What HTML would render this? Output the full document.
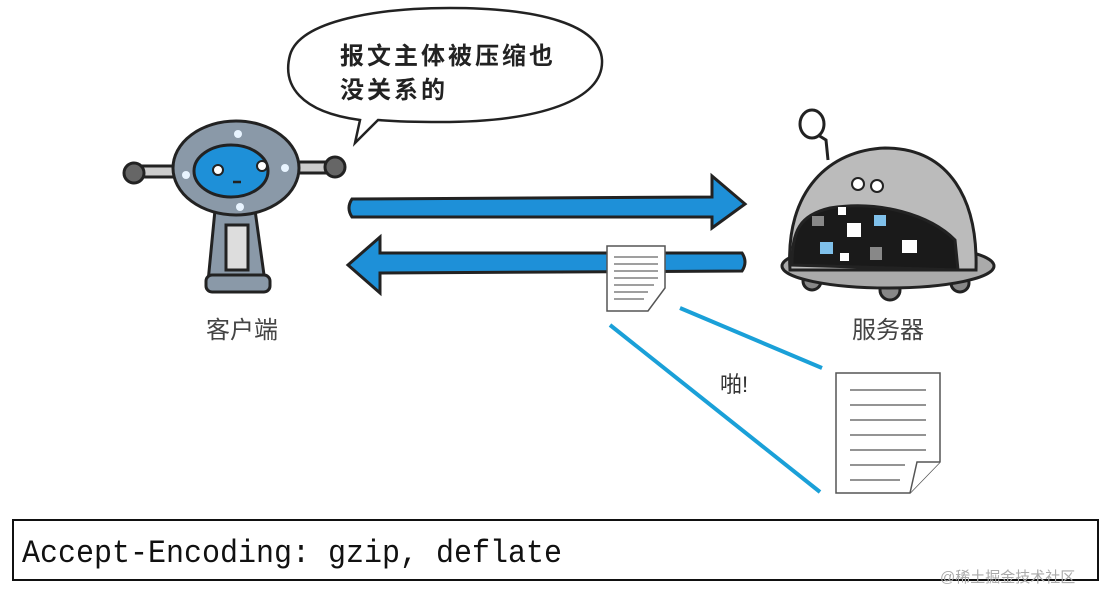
<!DOCTYPE html>
<html><head><meta charset="utf-8"><style>
html,body{margin:0;padding:0;background:#fff;}
body{width:1120px;height:602px;overflow:hidden;position:relative;}
svg{position:absolute;left:0;top:0;}
.cjk{font-family:"Liberation Sans","Noto Sans CJK SC",sans-serif;}
</style></head><body>
<svg width="1120" height="602" viewBox="0 0 1120 602" xmlns="http://www.w3.org/2000/svg">
<path d="M360,120 C300,112 282,85 290,55 C300,20 380,8 450,8 C540,8 600,25 602,60 C604,100 540,122 440,122 C410,122 390,121 378,120 L355,143 Z" fill="#fff" stroke="#222" stroke-width="2.5"/>
<text x="340" y="64" class="cjk" font-size="24" fill="#222" letter-spacing="3" font-weight="bold">报文主体被压缩也</text>
<text x="340" y="98" class="cjk" font-size="24" fill="#222" letter-spacing="3" font-weight="bold">没关系的</text>
<g stroke="#222" stroke-width="3">
<rect x="140" y="166" width="40" height="11" fill="#ccc"/>
<rect x="290" y="162" width="40" height="11" fill="#ccc"/>
<circle cx="134" cy="173" r="10" fill="#666"/>
<circle cx="335" cy="167" r="10" fill="#666"/>
<path d="M215,210 L255,210 L265,282 L208,282 Z" fill="#8a99a8"/>
<rect x="226" y="225" width="22" height="45" fill="#ddd"/>
<rect x="206" y="275" width="64" height="17" rx="6" fill="#8a99a8"/>
<ellipse cx="236" cy="168" rx="63" ry="47" fill="#8a99a8"/>
<ellipse cx="231" cy="171" rx="37" ry="26" fill="#1e90d8"/>
</g>
<circle cx="238" cy="134" r="4" fill="#e8f4ff"/><circle cx="240" cy="207" r="4" fill="#e8f4ff"/>
<circle cx="186" cy="175" r="4" fill="#e8f4ff"/><circle cx="285" cy="168" r="4" fill="#e8f4ff"/>
<circle cx="218" cy="170" r="5" fill="#fff" stroke="#222" stroke-width="2"/>
<circle cx="262" cy="166" r="5" fill="#fff" stroke="#222" stroke-width="2"/>
<path d="M233,182 h8" stroke="#222" stroke-width="2.5"/>
<text x="242" y="338" text-anchor="middle" class="cjk" font-size="24" fill="#444">客户端</text>
<path d="M352,199 L712,197 L712,176 L745,204 L712,228 L712,217 L352,217 Q346,208 352,199 Z" fill="#1e90d8" stroke="#222" stroke-width="3"/>
<path d="M742,253 L380,253 L380,237 L348,265 L380,293 L380,273 L742,271 Q748,262 742,253 Z" fill="#1e90d8" stroke="#222" stroke-width="3"/>
<path d="M607,246 L665,246 L665,288 L648,311 L607,311 Z" fill="#fff" stroke="#555" stroke-width="1.5"/>
<g stroke="#666" stroke-width="1.2"><path d="M614,257h44M614,264h44M614,271h44M614,278h44M614,285h40M614,292h34M614,299h30"/></g>
<path d="M680,308 L822,368" stroke="#1aa0d8" stroke-width="4"/>
<path d="M610,325 L820,492" stroke="#1aa0d8" stroke-width="4"/>
<text x="720" y="392" class="cjk" font-size="22" fill="#333">啪!</text>
<path d="M836,373 L940,373 L940,462 L910,493 L836,493 Z" fill="#fff" stroke="#555" stroke-width="1.5"/>
<g stroke="#555" stroke-width="1.2"><path d="M850,390h76M850,405h76M850,420h76M850,435h76M850,450h76M850,465h55M850,480h50"/></g>
<path d="M910,493 L917,462 L940,462" fill="#fff" stroke="#555" stroke-width="1.5"/>
<g stroke="#222" stroke-width="3">
<path d="M818,135 L826,140 L828,160" fill="none"/>
<ellipse cx="812" cy="124" rx="12" ry="14" fill="#fff"/>
<circle cx="812" cy="281" r="9" fill="#888"/><circle cx="890" cy="290" r="10" fill="#888"/><circle cx="960" cy="283" r="9" fill="#888"/>
<ellipse cx="888" cy="266" rx="106" ry="22" fill="#aaa"/>
<path d="M790,270 C785,190 830,150 885,148 C950,148 978,200 976,270 Z" fill="#bbb"/>
<path d="M792,265 C792,230 800,215 830,208 C880,200 930,215 955,240 L958,270 Z" fill="#1a1a1a"/>
</g>
<rect x="812" y="216" width="12" height="10" fill="#888"/><rect x="838" y="207" width="8" height="8" fill="#fff"/>
<rect x="874" y="215" width="12" height="11" fill="#7fc0ea"/><rect x="847" y="223" width="14" height="14" fill="#fff"/>
<rect x="820" y="242" width="13" height="12" fill="#7fc0ea"/><rect x="902" y="240" width="15" height="13" fill="#fff"/>
<rect x="870" y="247" width="12" height="13" fill="#888"/><rect x="840" y="253" width="9" height="8" fill="#fff"/>
<circle cx="858" cy="184" r="6" fill="#fff" stroke="#222" stroke-width="2"/>
<circle cx="877" cy="186" r="6" fill="#fff" stroke="#222" stroke-width="2"/>
<text x="888" y="338" text-anchor="middle" class="cjk" font-size="24" fill="#444">服务器</text>
<rect x="13" y="520" width="1085" height="60" fill="#fff" stroke="#111" stroke-width="2"/>
<text x="22" y="562" font-family="Liberation Mono, monospace" font-size="32" fill="#111" textLength="540" lengthAdjust="spacingAndGlyphs">Accept-Encoding: gzip, deflate</text>
<text x="940" y="582" class="cjk" font-size="15" fill="#aaa">@稀土掘金技术社区</text>
</svg>
</body></html>
